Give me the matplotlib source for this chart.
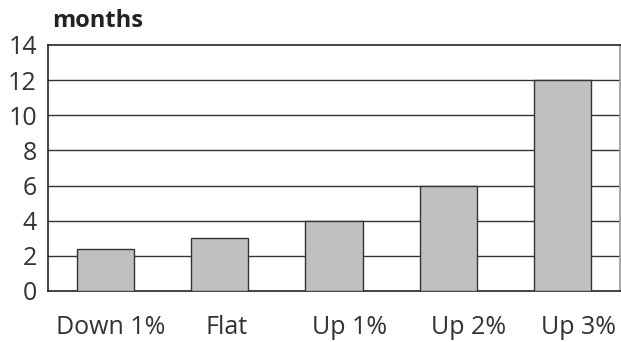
import numpy as np
import matplotlib.pyplot as plt

categories = ["Down 1%", "Flat", "Up 1%", "Up 2%", "Up 3%"]
months = [2.4, 3, 4, 6, 12]
yticks = [0, 2, 4, 6, 8, 10, 12, 14]
label_shift = [0.05, 0.06, 0.14, 0.18, 0.14]

plt.rcParams['font.family'] = ['Open Sans', 'DejaVu Sans']

fig = plt.figure(figsize=(6.21, 3.42), dpi=100)
ax = fig.add_axes([48 / 621, 1 - 291 / 342, 572 / 621, 246 / 342])

x = np.arange(len(categories))
ax.bar(x, months, width=0.5, color='#c0c0c0', edgecolor='#333333', linewidth=1, zorder=3)

for v in yticks[1:-1]:
    ax.axhline(v, color='#333333', linewidth=1, zorder=1)

ax.set_xlim(-0.5, len(categories) - 0.5)
ax.set_ylim(0, 14)
ax.set_yticks(yticks)
ax.set_yticklabels([str(v) for v in yticks], fontsize=18, color='#333333')
ax.tick_params(axis='y', length=0, pad=8)
ax.set_xticks(x + np.array(label_shift))
ax.set_xticklabels(categories, fontsize=18, color='#333333')
ax.tick_params(axis='x', length=0, pad=17)

for s in ax.spines.values():
    s.set_color('#222222')
    s.set_linewidth(1.2)
ax.spines['right'].set_color('#999999')

fig.text(52 / 621, 1 - 21 / 342, "months", fontsize=17, fontweight='bold',
         color='#222222', va='center', ha='left')

fig.savefig("out.png", dpi=100)
